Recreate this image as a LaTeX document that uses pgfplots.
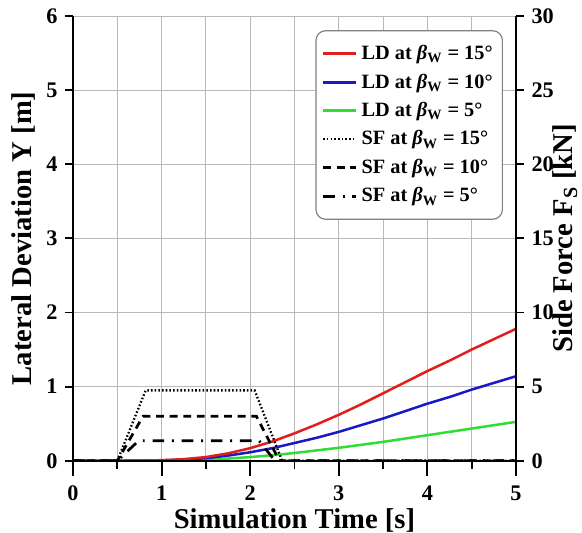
\documentclass[border=0pt]{standalone}
\usepackage{fontspec}
\setmainfont{Liberation Serif}
\usepackage{pgfplots}
\pgfplotsset{compat=1.18}
\definecolor{ldred}{RGB}{225,30,30}
\definecolor{ldblue}{RGB}{25,25,200}
\definecolor{ldgreen}{RGB}{50,220,50}
\pgfplotstableread{
x red blue green
0 0 0 0
0.5 0 0 0
0.75 0.002 0.001 0.0005
1 0.008 0.005 0.002
1.25 0.022 0.015 0.007
1.5 0.05 0.035 0.015
1.75 0.10 0.07 0.03
2 0.17 0.115 0.05
2.25 0.26 0.17 0.075
2.5 0.37 0.24 0.105
2.75 0.49 0.31 0.14
3 0.62 0.39 0.175
3.25 0.76 0.48 0.215
3.5 0.91 0.57 0.255
3.75 1.06 0.67 0.30
4 1.21 0.77 0.345
4.25 1.35 0.86 0.39
4.5 1.50 0.96 0.435
4.75 1.64 1.05 0.48
5 1.78 1.14 0.525
}\ldtable
\begin{document}
\begin{tikzpicture}
\useasboundingbox (-37.6bp,-37bp) rectangle (262bp,237.2bp);
\pgfplotsset{
  common/.style={
    scale only axis, width=228bp, height=229bp,
    xmin=0, xmax=5,
    tick align=outside, major tick length=4bp, minor tick length=4bp,
    tick style={black, line width=1pt},
    axis line style={line width=1.2pt},
    ticklabel style={font=\bfseries\fontsize{11.5}{13}\selectfont},
    /pgf/number format/assume math mode=true,
    label style={font=\bfseries\fontsize{14.8}{16}\selectfont, anchor=center},
  },
  legend image code/.code={\draw[#1] (0bp,0bp) -- (17bp,0bp);},
}
% left axis, grid, LD curves
\begin{axis}[common,
  ymin=0, ymax=6,
  axis x line*=bottom, axis y line*=left,
  xtick={0,1,...,5}, minor xtick={0.5,1.5,...,4.5},
  xticklabels={}, xtick style={draw=none}, minor x tick style={draw=none},
  ytick={0,1,...,6},
  yticklabel style={xshift=-0.5bp},
  xmajorgrids, xminorgrids, ymajorgrids,
  major grid style={gray!55, line width=0.45pt},
  minor grid style={gray!55, line width=0.45pt},
  ylabel={Lateral Deviation Y [m]},
  ylabel style={at={(axis description cs:-0.113,0.5)}},
]
\addplot[ldgreen, line width=1.3pt] table[x=x, y=green] {\ldtable};
\addplot[ldblue, line width=1.3pt] table[x=x, y=blue] {\ldtable};
\addplot[ldred, line width=1.3pt] table[x=x, y=red] {\ldtable};
\end{axis}
% x axis ticks and label
\begin{axis}[common,
  ymin=0, ymax=6,
  axis x line*=bottom, axis y line=none,
  major tick length=7.7bp, minor tick length=4bp,
  xtick={0,1,...,5}, minor xtick={0.5,1.5,...,4.5},
  xticklabel style={yshift=-1.5bp},
  xlabel={Simulation Time [s]},
  xlabel style={at={(axis description cs:0.5,-0.135)}},
]
\end{axis}
% right axis, SF curves, legend
\begin{axis}[common,
  ymin=0, ymax=30,
  axis y line*=right, axis x line=none,
  ytick={0,5,...,30},
  yticklabel style={xshift=0.5bp},
  ylabel={Side Force F\textsubscript{S} [kN]},
  ylabel style={at={(axis description cs:1.111,0.5)}},
  legend style={at={(0.9707,0.968)}, anchor=north east, rounded corners=5bp,
    draw=gray, line width=0.6pt, font=\bfseries\fontsize{10.5}{12}\selectfont, row sep=1.8bp,
    inner xsep=3bp, inner ysep=5.5bp, cells={anchor=west}},
]
\addlegendimage{ldred, line width=1.5pt}
\addlegendentry{LD at \textit{β}\textsubscript{W} = 15°}
\addlegendimage{ldblue, line width=1.5pt}
\addlegendentry{LD at \textit{β}\textsubscript{W} = 10°}
\addlegendimage{ldgreen, line width=1.5pt}
\addlegendentry{LD at \textit{β}\textsubscript{W} = 5°}
\addplot[black, line width=1.2pt, dash pattern=on 0.8bp off 1.1bp] coordinates {(0,0) (0.5,0) (0.82,4.75) (2.05,4.75) (2.36,0) (5,0)};
\addlegendentry{SF at \textit{β}\textsubscript{W} = 15°}
\addplot[black, line width=1.4pt, dash pattern=on 4bp off 3bp] coordinates {(0,0) (0.5,0) (0.79,3.0) (2.07,3.0) (2.33,0) (5,0)};
\addlegendentry{SF at \textit{β}\textsubscript{W} = 10°}
\addplot[black, line width=1.4pt, dash pattern=on 6bp off 4bp on 1bp off 4bp] coordinates {(0,0) (0.5,0) (0.74,1.35) (2.1,1.35) (2.28,0) (5,0)};
\addlegendentry{SF at \textit{β}\textsubscript{W} = 5°}
\end{axis}
\end{tikzpicture}
\end{document}
